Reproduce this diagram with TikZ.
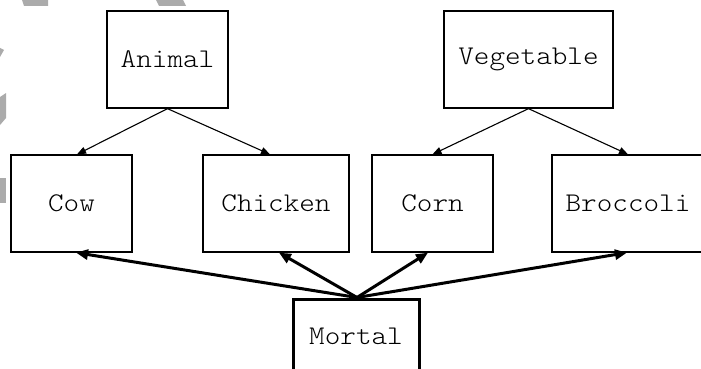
\documentclass[tikz,border=0pt]{standalone}
\usetikzlibrary{arrows.meta,calc}
\newcommand{\cour}[1]{\scalebox{1.1}[1]{\fontfamily{lmtt}\fontseries{l}\fontsize{27}{30}\selectfont #1}}
\begin{document}
\begin{tikzpicture}[x=1pt,y=-1pt,
  box/.style={draw=black,line width=1.3pt,rectangle,inner sep=0pt},
  thinarr/.style={line width=1.1pt,-{Triangle[length=9pt,width=7pt]}},
  thickarr/.style={line width=3pt,-{Triangle[length=12pt,width=10pt]}},
  wm/.style={fill=black!33,draw=none}]
\useasboundingbox (0,0) rectangle (701,369);
\fill[white] (0,0) rectangle (701,369);
% watermark fragments
\fill[wm] (22,0) -- (48,0) -- (48,6) -- (24,6) -- cycle;
\fill[wm] (156,0) -- (183,0) -- (186,6) -- (159,6) -- cycle;
\fill[wm] (0,48) -- (4,50) -- (0,57) -- cycle;
\fill[wm] (0,97) -- (6,93) -- (6,118) -- (0,125) -- cycle;
\fill[wm] (0,178) rectangle (6,203);
% nodes
\node[box,minimum width=121pt,minimum height=97pt] (animal) at (167.5,59.5) {\cour{Animal}};
\node[box,minimum width=169pt,minimum height=97pt] (veg) at (528.5,59.5) {\cour{Vegetable}};
\node[box,minimum width=121pt,minimum height=97pt] (cow) at (71.5,203.5) {\cour{Cow}};
\node[box,minimum width=146pt,minimum height=97pt] (chicken) at (276,203.5) {\cour{Chicken}};
\node[box,minimum width=121pt,minimum height=97pt] (corn) at (432.5,203.5) {\cour{Corn}};
\node[box,minimum width=152pt,minimum height=97pt] (broc) at (628,203.5) {\cour{Broccoli}};
\node[box,line width=3pt,minimum width=126pt,minimum height=74pt] (mortal) at (356,336) {\cour{Mortal}};
% thin arrows
\draw[thinarr] (animal.south) -- ($(cow.north)+(5.5,0)$);
\draw[thinarr] (animal.south) -- ($(chicken.north)+(-6,0)$);
\draw[thinarr] (veg.south) -- (corn.north);
\draw[thinarr] (veg.south) -- (broc.north);
% thick arrows
\coordinate (m) at ($(mortal.north)+(1,0)$);
\draw[thickarr] (m) -- ($(cow.south)+(4.5,0)$);
\draw[thickarr] (m) -- ($(chicken.south)+(3,0)$);
\draw[thickarr] (m) -- ($(corn.south)+(-4.5,0)$);
\draw[thickarr] (m) -- ($(broc.south)+(-1,0)$);
\end{tikzpicture}
\end{document}
